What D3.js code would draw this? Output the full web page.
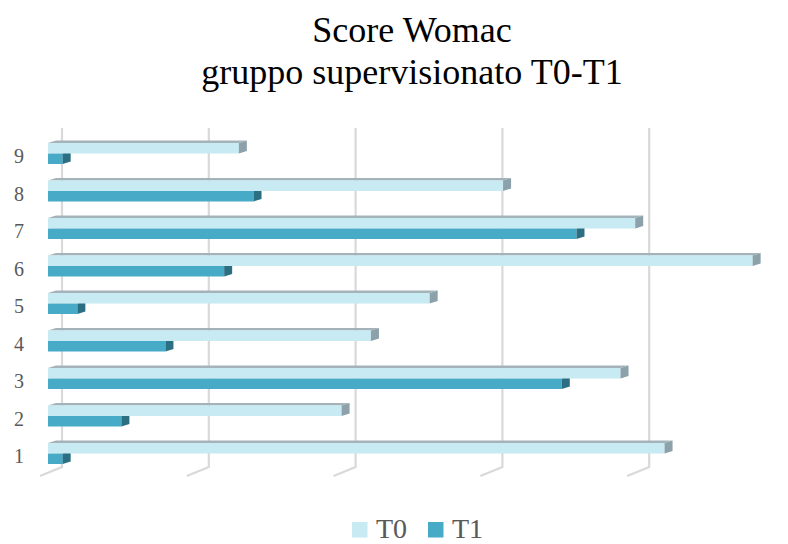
<!DOCTYPE html>
<html>
<head>
<meta charset="utf-8">
<script src="https://cdn.jsdelivr.net/npm/d3@7"></script>
<style>
  html, body { margin: 0; padding: 0; background: #fff; }
  svg { display: block; }
</style>
</head>
<body>
<div id="chart"></div>
<script>
// Womac scores, supervised group, before (T0) and after (T1)
const categories = ["1", "2", "3", "4", "5", "6", "7", "8", "9"];
const seriesNames = ["T0", "T1"];
const valuesT0 = [84, 40, 78, 44, 52, 96, 80, 62, 26];
const valuesT1 = [2, 10, 70, 16, 4, 24, 72, 28, 2];
const gridTicks = [0, 20, 40, 60, 80];
const titleLines = ["Score Womac", "gruppo supervisionato T0-T1"];

const W = 788, H = 544;
const serif = "'Liberation Serif', 'Times New Roman', serif";
const colors = {
  T0: { front: "#c7eaf3", top: "#a3b3b9", side: "#8ca1aa" },
  T1: { front: "#47abc7", top: "#3a8ea6", side: "#2c6f82" }
};
const depth = { dx: 8, dy: -2.6 };   // oblique offset of bar top / end faces
const wallShift = 14;                 // back wall sits right of the bar fronts
const floor = { top: 128, bottom: 467, dx: -22, dy: 9 };

const svg = d3.select("#chart").append("svg")
  .attr("width", W).attr("height", H);

const x = d3.scaleLinear().domain([0, 100]).range([48, 48 + 734]);

const y = d3.scaleBand()
  .domain(categories.slice().reverse())
  .range([134.75, 472.25])
  .paddingInner(0.44)
  .paddingOuter(0.22);

const ySeries = d3.scaleBand()
  .domain(seriesNames)
  .range([0, y.bandwidth()]);

// Gridlines on the back wall, bending onto the floor
svg.append("g").selectAll("path")
  .data(gridTicks)
  .join("path")
  .attr("d", v => {
    const gx = x(v) + wallShift;
    return `M${gx},${floor.top}L${gx},${floor.bottom}L${gx + floor.dx},${floor.bottom + floor.dy}`;
  })
  .attr("fill", "none")
  .attr("stroke", "#d9d9d9")
  .attr("stroke-width", 2.2);

// Bars: T1 drawn first so the T0 front face covers its top
const rows = categories.map((c, i) => ({ cat: c, T0: valuesT0[i], T1: valuesT1[i] }));
const barsG = svg.append("g");

["T1", "T0"].forEach(s => {
  const g = barsG.append("g");
  const data = rows.map(r => ({ cat: r.cat, v: r[s] }));
  const bx0 = x(0);
  const by = d => y(d.cat) + ySeries(s);
  const bh = ySeries.bandwidth();

  // top face
  g.selectAll("path.top").data(data).join("path")
    .attr("class", "top")
    .attr("d", d => {
      const y0 = by(d), x1 = x(d.v);
      return `M${bx0},${y0}L${bx0 + depth.dx},${y0 + depth.dy}L${x1 + depth.dx},${y0 + depth.dy}L${x1},${y0}Z`;
    })
    .attr("fill", colors[s].top);

  // front face
  g.selectAll("rect.front").data(data).join("rect")
    .attr("class", "front")
    .attr("x", bx0)
    .attr("y", d => by(d))
    .attr("width", d => x(d.v) - bx0)
    .attr("height", bh)
    .attr("fill", colors[s].front);

  // end face
  g.selectAll("path.side").data(data).join("path")
    .attr("class", "side")
    .attr("d", d => {
      const y0 = by(d), x1 = x(d.v);
      return `M${x1},${y0}L${x1 + depth.dx},${y0 + depth.dy}L${x1 + depth.dx},${y0 + bh + depth.dy}L${x1},${y0 + bh}Z`;
    })
    .attr("fill", colors[s].side);
});

// Category axis
const axis = svg.append("g")
  .attr("transform", "translate(24,3.5)")
  .call(d3.axisLeft(y).tickSize(0).tickPadding(0));
axis.select(".domain").remove();
axis.selectAll("text")
  .attr("font-family", serif)
  .attr("font-size", 20)
  .attr("fill", "#595959");

// Title
svg.append("g").selectAll("text")
  .data(titleLines)
  .join("text")
  .attr("x", 412)
  .attr("y", (d, i) => 42 + i * 42)
  .attr("text-anchor", "middle")
  .attr("font-family", serif)
  .attr("font-size", 36)
  .attr("fill", "#000")
  .text(d => d);

// Legend
const legend = svg.append("g").attr("transform", "translate(352,522)");
const legendItems = legend.selectAll("g")
  .data(seriesNames)
  .join("g")
  .attr("transform", (d, i) => `translate(${i * 76},0)`);
legendItems.append("rect")
  .attr("width", 15.5).attr("height", 15.5)
  .attr("fill", d => colors[d].front);
legendItems.append("text")
  .attr("x", 24)
  .attr("y", 16)
  .attr("font-family", serif)
  .attr("font-size", 28)
  .attr("fill", "#595959")
  .text(d => d);
</script>
</body>
</html>
